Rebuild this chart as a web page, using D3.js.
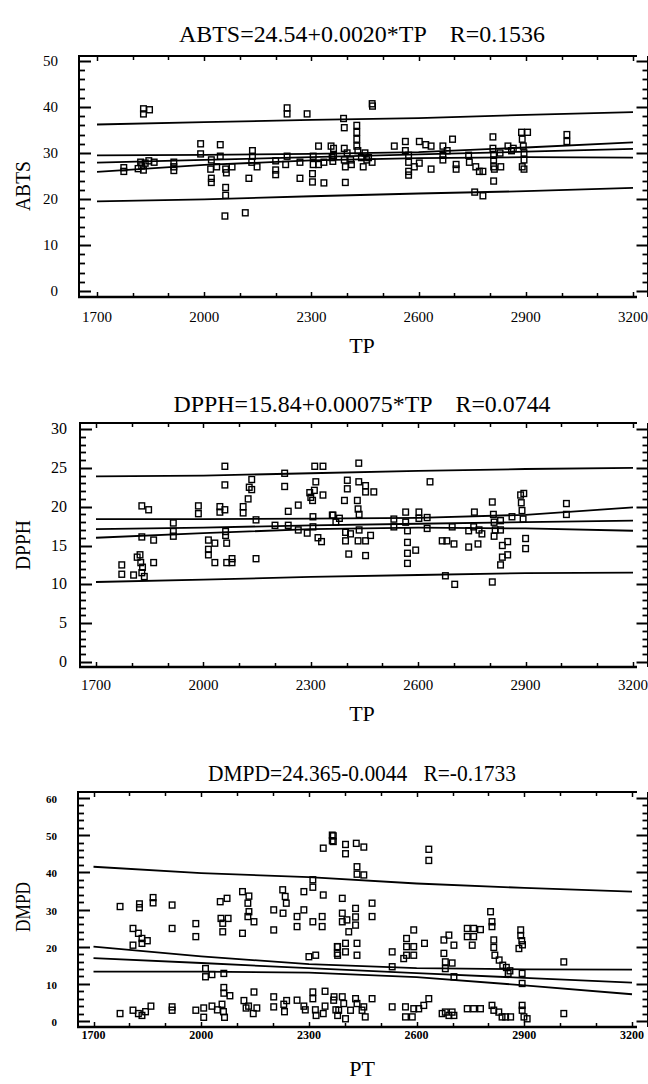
<!DOCTYPE html>
<html><head><meta charset="utf-8">
<script src="https://cdn.jsdelivr.net/npm/d3@7"></script>
<style>
body{margin:0;background:#fff}
svg{display:block}
text{font-family:"Liberation Serif","DejaVu Serif",serif;fill:#000;white-space:pre}
</style>
</head><body>
<svg id="c" width="648" height="1084"></svg>
<script>
// ---------- tick labels ----------
const xTicks=[1700,2000,2300,2600,2900,3200];
const abtsTicks=[0,10,20,30,40,50];
const dpphTicks=[0,5,10,15,20,25,30];
const dmpdTicks=[0,10,20,30,40,50,60];
const bandX=[1700,2000,2300,2600,2900,3200];

// ---------- panel 1 : ABTS vs TP ----------
const tp1=[1775,1775,1815,1825,1830,1835,1822,1830,1830,1847,1845,1860,1915,1915,1915,1990,1990,2020,2018,2020,2020,2035,2045,2045,2060,2062,2060,2060,2058,2078,2115,2125,2135,2135,2133,2148,2200,2200,2200,2228,2232,2232,2232,2268,2268,2288,2305,2305,2303,2303,2320,2320,2335,2335,2362,2362,
2355,2358,2360,2390,2392,2392,2392,2395,2395,2400,2410,2412,2427,2427,2427,2427,2430,2440,2450,2455,2445,2460,2470,2470,2471,2532,2563,2563,2572,2572,2572,2572,2588,2602,2602,2620,2635,2635,2668,2668,2668,2680,2695,2705,2705,2740,2742,2760,2770,2780,2757,2780,2808,2808,2810,2810,2810,2812,2810,2828,2830,2850,2860,2865,2888,2890,2893,2895,2895,2890,2905,2895,3015,3015];
const abts=[26.8,26.0,26.6,27.2,26.3,27.8,28.0,38.5,39.6,39.4,28.3,28.0,28.0,27.0,26.2,32.0,29.8,28.5,26.5,24.5,23.6,27.0,31.8,29.3,26.5,25.7,22.5,20.8,16.3,27.0,17.0,24.5,30.5,29.3,28.0,27.0,28.3,26.3,25.3,27.5,39.8,38.5,29.3,28.0,24.5,38.5,29.3,27.5,25.5,23.7,31.5,27.5,23.5,28.0,31.0,29.5,
31.5,29.0,28.2,37.5,35.5,31.0,28.5,27.0,23.6,30.0,28.5,27.5,36.0,34.5,33.0,31.5,30.5,29.0,30.0,28.5,27.0,29.0,28.0,40.7,40.2,31.5,32.5,30.5,29.5,28.0,26.0,25.2,27.0,32.5,27.8,31.8,31.5,26.5,31.5,29.5,28.5,30.5,33.0,27.5,26.5,29.5,28.0,27.0,26.0,26.0,21.5,20.7,33.5,31.0,29.5,28.5,27.0,26.5,23.9,30.0,27.0,31.5,30.5,31.0,34.5,33.0,31.5,30.0,28.5,27.0,34.5,26.5,34.0,32.5];
const abtsUpperPred=[36.2,36.7,37.2,37.6,38.3,38.9];
const abtsUpperConf=[29.5,29.6,29.8,30.2,31.2,32.3];
const abtsFit=[27.9,28.5,29.1,29.7,30.3,30.9];
const abtsLowerConf=[25.9,27.4,28.4,28.9,29.1,29.0];
const abtsLowerPred=[19.5,19.9,20.6,21.2,21.7,22.4];

// ---------- panel 2 : DPPH vs TP ----------
const tp2=[1772,1772,1805,1815,1823,1825,1828,1830,1835,1828,1847,1828,1861,1861,1916,1916,1916,1986,1986,2014,2014,2014,2032,2032,2046,2046,2060,2060,2060,2062,2062,2065,2065,2080,2080,2111,2111,2125,2128,2135,2135,2147,2147,2200,2227,2227,2237,2237,2265,2265,2290,2297,2300,2305,2310,2311,2334,2314,2306,2306,2320,2330,2334,2362,
2360,2370,2380,2397,2397,2406,2411,2402,2402,2394,2434,2430,2432,2435,2435,2432,2434,2453,2453,2453,2453,2467,2476,2532,2532,2565,2565,2570,2570,2570,2570,2593,2602,2602,2625,2625,2633,2667,2680,2700,2676,2702,2695,2741,2741,2757,2755,2770,2778,2767,2807,2810,2812,2815,2812,2807,2830,2830,2835,2835,2830,2850,2850,2862,2886,2888,2890,2895,2893,2900,2900,3014,3014];
const dpph=[12.5,11.3,11.2,13.5,13.8,12.8,11.5,12.2,11.0,20.1,19.6,16.1,15.7,12.8,17.9,16.8,16.2,20.1,19.1,15.7,14.5,13.8,15.3,12.8,20.0,19.3,19.6,25.2,22.8,16.8,16.3,15.3,12.8,12.8,13.3,20.0,19.2,21.0,22.5,23.5,22.2,18.3,13.3,17.6,24.3,22.6,19.4,17.6,20.2,17.0,16.6,21.8,21.2,20.8,22.1,25.2,25.2,23.2,18.7,17.4,16.0,15.5,21.5,18.9,
18.9,18.0,18.5,16.7,15.6,13.9,16.5,23.4,22.3,20.8,25.6,20.8,19.7,19.0,17.0,15.6,23.2,22.7,21.9,15.6,13.7,16.3,21.9,18.4,17.4,19.3,18.0,16.9,15.4,14.0,12.7,14.4,19.3,18.5,18.6,17.2,23.2,15.6,15.6,15.2,11.1,10.0,17.4,16.9,14.8,19.3,17.4,17.0,16.5,15.2,20.6,19.0,18.0,17.0,16.2,10.3,18.2,17.0,15.0,13.5,12.5,15.5,13.8,18.7,21.5,20.5,19.5,21.7,18.4,15.9,14.6,20.4,19.0];
const dpphUpperPred=[23.9,24.0,24.3,24.6,24.85,25.0];
const dpphUpperConf=[18.4,18.4,18.45,18.55,18.95,19.9];
const dpphFit=[17.1,17.3,17.6,17.8,18.0,18.2];
const dpphLowerConf=[16.0,16.6,17.1,17.3,17.2,16.9];
const dpphLowerPred=[10.3,10.6,10.95,11.2,11.45,11.5];

// ---------- panel 3 : DMPD vs PT ----------
const tp3=[1774,1810,1825,1835,1835,1810,1850,1828,1828,1866,1866,1919,1919,1985,1985,2053,2072,2055,2060,2060,2075,2115,2133,2130,2130,2133,2147,2115,2202,2202,2227,2234,2237,2228,2267,2267,2286,2286,2311,2311,2311,2340,2368,2368,2340,2337,2337,2300,2319,2380,2380,
1774,1810,1825,1835,1845,1860,1919,1919,1985,2007,2007,2030,2045,2012,2012,2030,2063,2063,2063,2080,2058,2062,2065,2119,2125,2132,2145,2155,2147,2202,2202,2230,2232,2238,2267,2286,2290,2311,2311,2318,2320,2340,2345,2345,2370,2375,2380,
2365,2365,2402,2402,2432,2453,2434,2434,2453,2634,2634,2393,2393,2393,2406,2411,2430,2430,2430,2379,2379,2402,2402,2434,2434,2476,2476,2532,2532,2572,2592,2572,2592,2622,2572,2592,2564,2676,2690,2704,2676,2680,2699,2680,2704,2741,2759,2778,2741,2759,2755,2806,2810,2810,2815,2815,2818,2830,2840,2850,2860,2855,2894,2894,2890,2890,2893,2895,2885,3010,
2369,2383,2393,2397,2402,2416,2430,2434,2448,2457,2453,2476,2532,2569,2569,2588,2592,2606,2620,2634,2671,2680,2690,2699,2704,2741,2759,2778,2810,2815,2829,2838,2848,2862,2894,2894,2899,2908,3010];
const dmpd=[30.8,24.9,23.6,22.2,20.9,20.4,21.6,31.5,30.5,33.2,31.8,31.2,24.9,26.2,22.7,32.1,33.0,27.6,26.3,24.0,27.6,34.8,33.6,31.7,28.1,29.4,26.7,23.6,29.9,24.5,35.3,33.5,31.7,29.0,28.1,25.4,34.8,29.9,38.0,36.0,26.7,46.5,49.8,48.3,33.9,28.1,25.4,17.3,17.7,20.0,17.7,
2.0,2.9,2.0,1.5,2.5,4.0,3.8,2.9,2.9,3.5,1.0,4.0,3.0,14.1,11.9,12.5,12.8,9.0,7.5,6.8,4.5,2.5,1.0,5.5,3.5,4.0,2.0,3.5,7.8,6.5,3.8,4.5,2.5,5.5,5.6,4.0,3.0,7.8,6.0,3.0,1.5,2.0,4.0,8.0,6.5,3.0,1.5,
50.0,48.5,47.5,45.0,47.8,46.8,41.5,39.5,39.3,46.2,43.2,33.0,29.0,26.7,27.2,24.0,30.3,28.0,25.8,20.0,18.2,20.9,18.6,20.9,17.7,31.7,28.1,18.6,14.6,22.2,24.5,20.0,20.0,20.9,17.7,17.7,16.8,21.8,23.1,20.4,18.2,15.9,15.6,14.1,11.9,24.9,24.9,24.6,22.7,22.7,20.4,29.4,26.7,25.4,21.8,19.8,17.7,16.4,15.0,14.4,13.5,12.8,12.8,10.1,24.5,23.0,21.6,20.5,19.5,15.9,
5.6,2.9,6.5,4.7,0.6,2.9,6.0,4.7,2.9,1.1,3.8,6.0,3.8,3.8,1.1,1.1,3.3,3.3,4.2,6.0,2.0,2.4,1.5,2.4,1.5,3.3,3.3,3.3,4.2,2.9,2.4,1.1,1.1,1.1,4.2,2.9,1.1,0.6,2.0];
const dmpdUpperPred=[41.5,39.8,38.7,37.0,35.8,34.8];
const dmpdUpperConf=[20.0,17.4,15.3,14.2,13.9,13.8];
const dmpdFit=[16.9,15.6,14.2,12.9,11.6,10.3];
const dmpdLowerConf=[13.3,13.3,13.0,11.8,9.6,7.2];

// ---------- layout ----------
const panels=[
 {tp:tp1,val:abts,ticks:abtsTicks,yMax:50,yMinor:2,bands:[abtsUpperPred,abtsUpperConf,abtsFit,abtsLowerConf,abtsLowerPred],
  title:"ABTS=24.54+0.0020*TP    R=0.1536",titleY:42,titleLen:366,yLabel:"ABTS",yLabelY:186,xLabel:"TP",
  left:79,top:56,bottom:297,x0:97,x1:633,y0:291,y1:61,yLabX:58,yLabFont:"15px",yLabWeight:"normal",xLabY:322,xLabFont:"15px",xLabWeight:"normal",xTitleY:353},
 {tp:tp2,val:dpph,ticks:dpphTicks,yMax:30,yMinor:1,bands:[dpphUpperPred,dpphUpperConf,dpphFit,dpphLowerConf,dpphLowerPred],
  title:"DPPH=15.84+0.00075*TP    R=0.0744",titleY:412,titleLen:377,yLabel:"DPPH",yLabelY:545,xLabel:"TP",
  left:80,top:423,bottom:667,x0:96,x1:633,y0:662,y1:429,yLabX:67,yLabFont:"16px",yLabWeight:"normal",xLabY:690,xLabFont:"15px",xLabWeight:"normal",xTitleY:721},
 {tp:tp3,val:dmpd,ticks:dmpdTicks,yMax:60,yMinor:2,bands:[dmpdUpperPred,dmpdUpperConf,dmpdFit,dmpdLowerConf],
  title:"DMPD=24.365-0.0044   R=-0.1733",titleY:781,titleLen:308,yLabel:"DMPD",yLabelY:907,xLabel:"PT",
  left:78,top:792,bottom:1027,x0:93.5,x1:632,y0:1021,y1:798,yLabX:57,yLabFont:"11px",yLabWeight:"bold",xLabY:1039,xLabFont:"12px",xLabWeight:"bold",xTitleY:1076}
];

const svg=d3.select("#c");
const RIGHT=637, RAXIS=647.5;

panels.forEach((p,i)=>{
  const x=d3.scaleLinear().domain([1700,3200]).range([p.x0,p.x1]);
  const y=d3.scaleLinear().domain([0,p.yMax]).range([p.y0,p.y1]);
  const g=svg.append("g");
  const ln=(x1,y1,x2,y2,w)=>g.append("line").attr("x1",x1).attr("y1",y1).attr("x2",x2).attr("y2",y2)
      .attr("stroke","#000").attr("stroke-width",w||2);

  // frame
  ln(p.left-1,p.top,RIGHT,p.top,2);
  ln(p.left-1,p.bottom,RIGHT,p.bottom,2.4);
  ln(p.left,p.top,p.left,p.bottom,2);
  ln(RAXIS,p.top,RAXIS,p.bottom,1);

  // y ticks (left inward, right inward from right axis)
  d3.range(0,p.yMax+1e-9,p.yMinor).forEach(v=>{
    const major=p.ticks.includes(Math.round(v*1000)/1000);
    const L=major?12:6, yy=Math.round(y(v))+0.5;
    ln(p.left,yy,p.left+L,yy,major?2:1.8);
    ln(RAXIS+1,yy,RAXIS+1-L,yy,major?2:1.8);
  });
  // x ticks every 100
  d3.range(1700,3201,100).forEach(v=>{
    const major=xTicks.includes(v), L=major?5:4, xx=Math.round(x(v))+0.5;
    ln(xx,p.top,xx,p.top+L,1.5);
    ln(xx,p.bottom,xx,p.bottom-L,1.5);
  });

  // tick labels
  g.selectAll("text.yt").data(p.ticks).join("text").attr("class","yt")
    .attr("x",p.yLabX).attr("y",d=>y(d)+5).attr("text-anchor","end")
    .style("font-size",p.yLabFont).style("font-weight",p.yLabWeight).text(d=>d);
  g.selectAll("text.xt").data(xTicks).join("text").attr("class","xt")
    .attr("x",d=>x(d)).attr("y",p.xLabY).attr("text-anchor","middle")
    .style("font-size",p.xLabFont).style("font-weight",p.xLabWeight).text(d=>d);

  // titles
  g.append("text").attr("x",362).attr("y",p.titleY).attr("text-anchor","middle")
    .attr("textLength",p.titleLen).attr("lengthAdjust","spacingAndGlyphs")
    .style("font-size","23px").text(p.title);
  g.append("text").attr("x",362).attr("y",p.xTitleY).attr("text-anchor","middle")
    .style("font-size","22px").text(p.xLabel);
  g.append("text").attr("transform",`translate(30,${p.yLabelY}) rotate(-90)`).attr("text-anchor","middle")
    .attr("textLength",50).attr("lengthAdjust","spacingAndGlyphs")
    .style("font-size","22px").text(p.yLabel);

  // bands & regression line
  const clipId="clip"+i;
  svg.append("clipPath").attr("id",clipId).append("rect")
    .attr("x",p.left).attr("y",p.top).attr("width",RIGHT-p.left).attr("height",p.bottom-p.top);
  const line=d3.line().x((d,k)=>x(bandX[k])).y(d=>y(d));
  g.append("g").attr("clip-path",`url(#${clipId})`).selectAll("path").data(p.bands).join("path")
    .attr("d",line).attr("fill","none").attr("stroke","#000").attr("stroke-width",1.8);

  // points
  g.append("g").selectAll("rect").data(p.tp.map((t,k)=>[t,p.val[k]])).join("rect")
    .attr("x",d=>x(d[0])-2.8).attr("y",d=>y(d[1])-3).attr("width",5.6).attr("height",6)
    .attr("fill","none").attr("stroke","#000").attr("stroke-width",1.4);
});
</script>
</body></html>
